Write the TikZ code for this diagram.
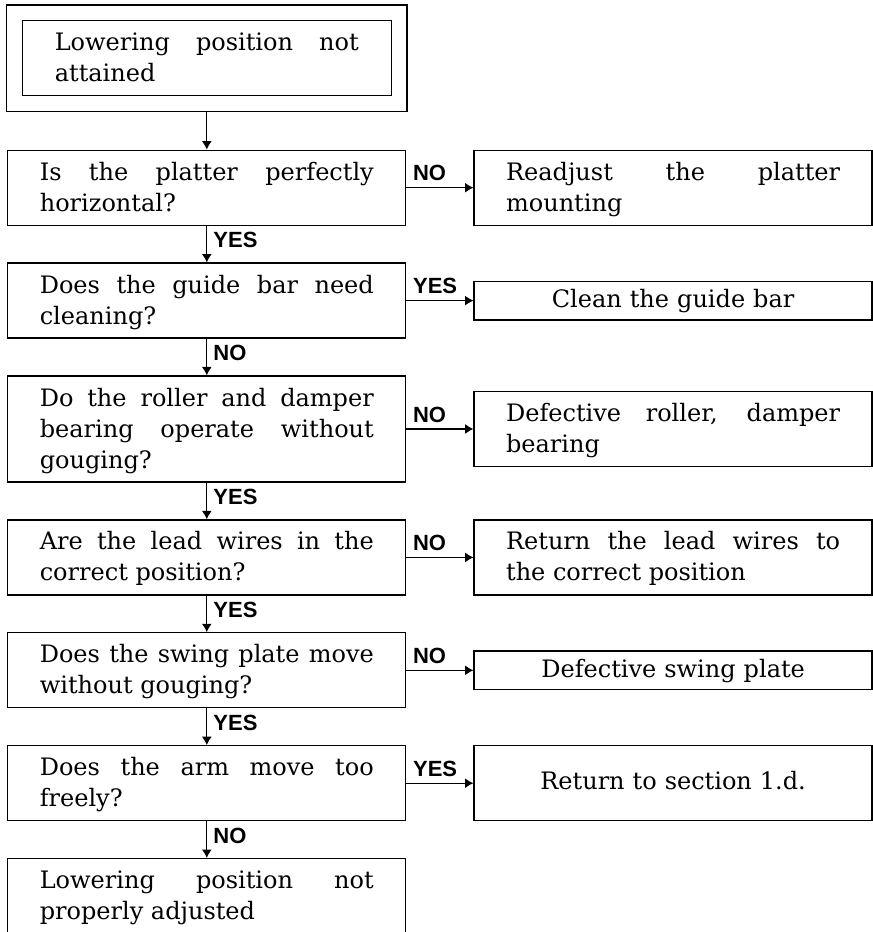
\documentclass[tikz,border=0pt]{standalone}
\usepackage{fontspec}
\setmainfont{DejaVu Serif}
\newfontfamily\lblfont{Liberation Sans}
\usetikzlibrary{arrows.meta,positioning,fit}
\tolerance=10000
\hbadness=10000
\hyphenpenalty=10000

\begin{document}
\begin{tikzpicture}[
  font=\fontsize{12pt}{15.5pt}\selectfont,
  line width=0.65pt,
  n/.style={draw, align=justify, text width=167pt, inner xsep=16pt, inner ysep=0pt,
    text height=15pt, text depth=22.5pt},
  tall/.style={n, text depth=38pt},
  slim/.style={n, align=center, text height=13.3pt, text depth=6pt},
  ret/.style={n, align=center, text height=22pt, text depth=15.5pt},
  arr/.style={-{Latex[length=4.2pt,width=5pt]}},
  lbl/.style={font=\lblfont\bfseries\fontsize{11pt}{12pt}\selectfont, inner sep=3pt}
]
\useasboundingbox (0,0) rectangle (436.5pt,-466pt);

% start
\node[n, text width=152pt, inner xsep=16.2pt, anchor=north] (low) at (103.4pt,-10pt)
  {Lowering position not\linebreak attained};
\node[draw, fit=(low), inner sep=7.5pt] (lowf) {};

% left column
\node[n, below=18.8pt of lowf] (plat) {Is the platter perfectly\linebreak horizontal?};
\node[n, below=18.3pt of plat] (bar) {Does the guide bar need\linebreak cleaning?};
\node[tall, below=18.3pt of bar] (roll) {Do the roller and damper\linebreak bearing operate without\linebreak gouging?};
\node[n, below=18.3pt of roll] (wire) {Are the lead wires in the\linebreak correct position?};
\node[n, below=18.3pt of wire] (swing) {Does the swing plate move\linebreak without gouging?};
\node[n, below=18.3pt of swing] (arm) {Does the arm move too\linebreak freely?};
\node[n, below=18.3pt of arm] (adj) {Lowering position not\linebreak properly adjusted};

% right column
\node[n, right=33.5pt of plat] (remount) {Readjust the platter\linebreak mounting};
\node[slim, right=33.5pt of bar] (clean) {Clean the guide bar};
\node[n, right=33.5pt of roll] (defroll) {Defective roller, damper\linebreak bearing};
\node[n, right=33.5pt of wire] (rewire) {Return the lead wires to\linebreak the correct position};
\node[slim, right=33.5pt of swing] (defswing) {Defective swing plate};
\node[ret, right=33.5pt of arm] (back) {Return to section 1.d.};

% connectors
\draw[arr] (lowf) -- (plat);
\draw[arr] (plat) -- node[lbl, pos=0, anchor=south west] {NO} (remount);
\draw[arr] (plat) -- node[lbl, pos=0, anchor=north west] {YES} (bar);
\draw[arr] (bar) -- node[lbl, pos=0, anchor=south west] {YES} (clean);
\draw[arr] (bar) -- node[lbl, pos=0, anchor=north west] {NO} (roll);
\draw[arr] (roll) -- node[lbl, pos=0, anchor=south west] {NO} (defroll);
\draw[arr] (roll) -- node[lbl, pos=0, anchor=north west] {YES} (wire);
\draw[arr] (wire) -- node[lbl, pos=0, anchor=south west] {NO} (rewire);
\draw[arr] (wire) -- node[lbl, pos=0, anchor=north west] {YES} (swing);
\draw[arr] (swing) -- node[lbl, pos=0, anchor=south west] {NO} (defswing);
\draw[arr] (swing) -- node[lbl, pos=0, anchor=north west] {YES} (arm);
\draw[arr] (arm) -- node[lbl, pos=0, anchor=south west] {YES} (back);
\draw[arr] (arm) -- node[lbl, pos=0, anchor=north west] {NO} (adj);
\end{tikzpicture}
\end{document}
